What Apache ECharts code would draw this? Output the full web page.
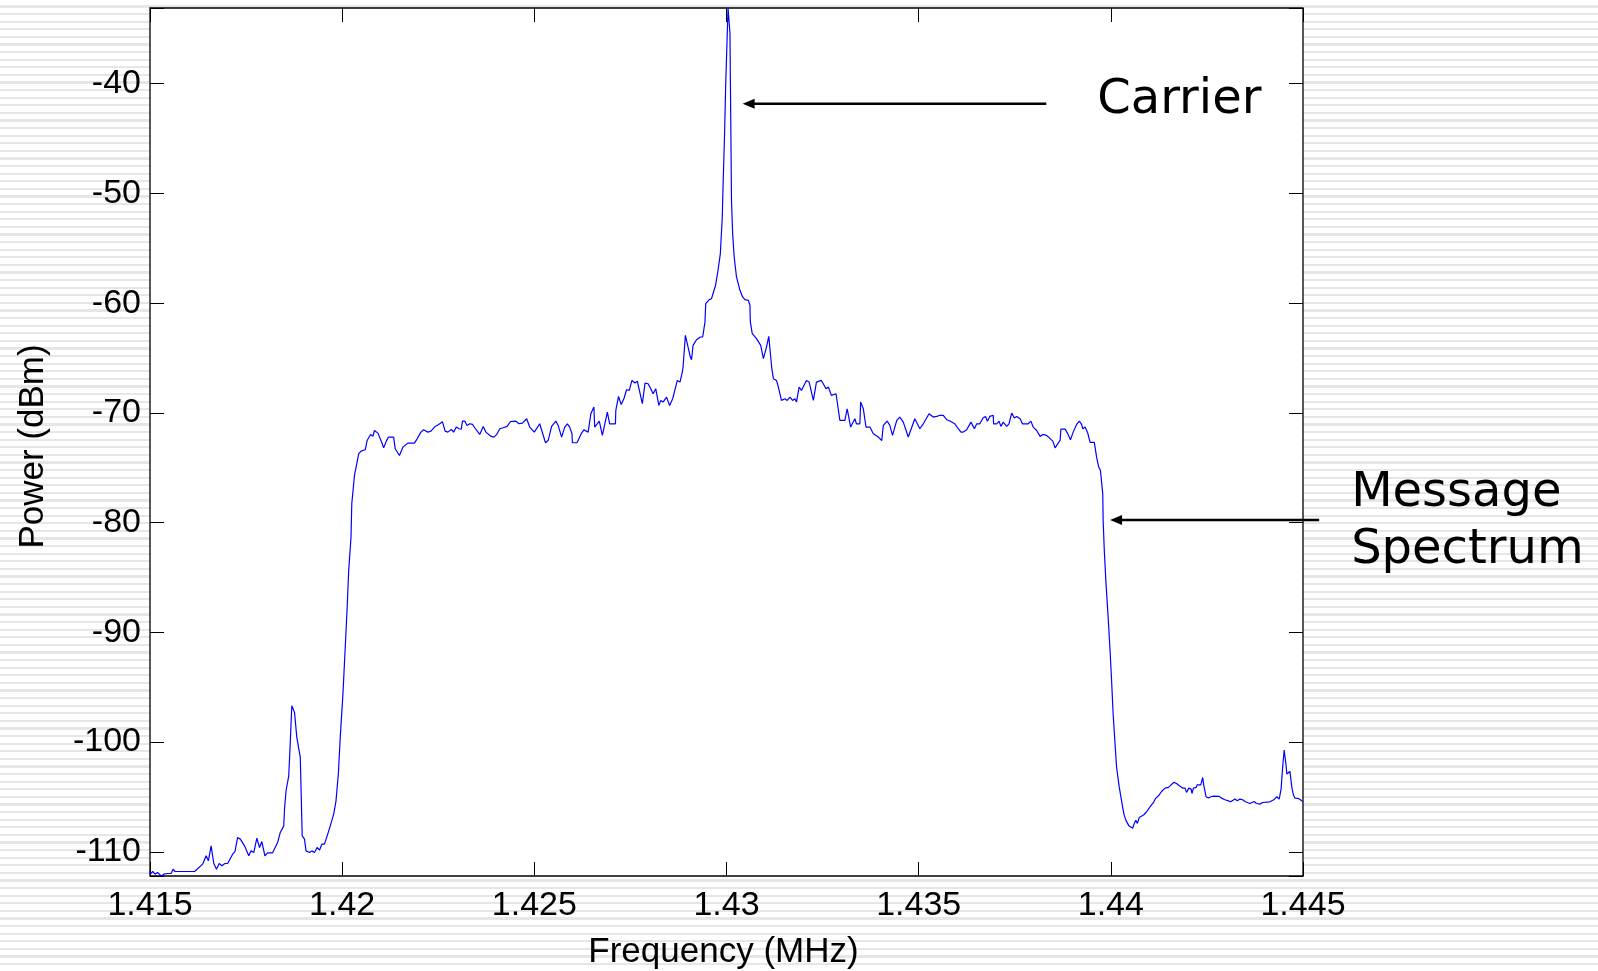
<!DOCTYPE html>
<html>
<head>
<meta charset="utf-8">
<title>Power spectrum</title>
<style>
  html, body { margin: 0; padding: 0; }
  body {
    background: repeating-linear-gradient(to bottom, #ffffff 0px, #ffffff 5.4px, #e6e6e6 5.4px, #e6e6e6 7.6px);
  }
  #chart { width: 1598px; height: 971px; }
</style>
<script src="https://cdn.jsdelivr.net/npm/echarts@6/dist/echarts.min.js"></script>
</head>
<body>
<div id="chart"></div>
<script>
var freqMHz = [
  1.41500, 1.41501, 1.41507, 1.41513, 1.41520, 1.41524, 1.41529, 1.41536, 1.41544, 1.41555,
  1.41560, 1.41565, 1.41581, 1.41616, 1.41637, 1.41646, 1.41652, 1.41659, 1.41666, 1.41673,
  1.41680, 1.41687, 1.41695, 1.41702, 1.41715, 1.41721, 1.41728, 1.41735, 1.41746, 1.41757,
  1.41763, 1.41770, 1.41778, 1.41785, 1.41791, 1.41799, 1.41806, 1.41819, 1.41832, 1.41839,
  1.41848, 1.41850, 1.41854, 1.41861, 1.41864, 1.41869, 1.41876, 1.41882, 1.41891, 1.41896,
  1.41902, 1.41906, 1.41915, 1.41921, 1.41928, 1.41935, 1.41941, 1.41947, 1.41954, 1.41961,
  1.41969, 1.41978, 1.41984, 1.41990, 1.41995, 1.42002, 1.42008, 1.42013, 1.42017, 1.42023,
  1.42025, 1.42032, 1.42043, 1.42049, 1.42060, 1.42065, 1.42074, 1.42080, 1.42084, 1.42093,
  1.42101, 1.42108, 1.42115, 1.42120, 1.42134, 1.42138, 1.42149, 1.42158, 1.42171, 1.42188,
  1.42195, 1.42205, 1.42212, 1.42223, 1.42231, 1.42242, 1.42251, 1.42254, 1.42261, 1.42268,
  1.42275, 1.42277, 1.42284, 1.42290, 1.42297, 1.42304, 1.42310, 1.42313, 1.42319, 1.42325,
  1.42332, 1.42339, 1.42345, 1.42358, 1.42367, 1.42374, 1.42386, 1.42395, 1.42402, 1.42410,
  1.42419, 1.42429, 1.42438, 1.42452, 1.42460, 1.42469, 1.42480, 1.42488, 1.42500, 1.42514,
  1.42529, 1.42536, 1.42545, 1.42556, 1.42562, 1.42571, 1.42579, 1.42586, 1.42592, 1.42598,
  1.42599, 1.42611, 1.42623, 1.42629, 1.42640, 1.42647, 1.42655, 1.42657, 1.42662, 1.42669,
  1.42677, 1.42690, 1.42696, 1.42711, 1.42712, 1.42719, 1.42726, 1.42733, 1.42740, 1.42747,
  1.42754, 1.42762, 1.42768, 1.42773, 1.42781, 1.42788, 1.42796, 1.42803, 1.42809, 1.42816,
  1.42824, 1.42829, 1.42835, 1.42844, 1.42852, 1.42860, 1.42872, 1.42879, 1.42885, 1.42887,
  1.42893, 1.42906, 1.42909, 1.42913, 1.42922, 1.42932, 1.42938, 1.42944, 1.42946, 1.42955,
  1.42961, 1.42967, 1.42971, 1.42978, 1.42984, 1.42989, 1.42991, 1.42995, 1.42998, 1.43002,
  1.43004, 1.43009, 1.43011, 1.43013, 1.43016, 1.43020, 1.43026, 1.43035, 1.43042, 1.43048,
  1.43057, 1.43061, 1.43062, 1.43067, 1.43078, 1.43089, 1.43096, 1.43104, 1.43110, 1.43115,
  1.43118, 1.43122, 1.43130, 1.43135, 1.43143, 1.43152, 1.43158, 1.43165, 1.43172, 1.43178,
  1.43182, 1.43189, 1.43195, 1.43208, 1.43215, 1.43226, 1.43234, 1.43247, 1.43252, 1.43259,
  1.43265, 1.43273, 1.43285, 1.43295, 1.43308, 1.43314, 1.43323, 1.43328, 1.43334, 1.43338,
  1.43347, 1.43349, 1.43356, 1.43363, 1.43373, 1.43382, 1.43395, 1.43404, 1.43408, 1.43418,
  1.43425, 1.43432, 1.43443, 1.43451, 1.43460, 1.43473, 1.43490, 1.43503, 1.43512, 1.43527,
  1.43538, 1.43547, 1.43554, 1.43564, 1.43573, 1.43581, 1.43594, 1.43603, 1.43610, 1.43616,
  1.43625, 1.43636, 1.43645, 1.43651, 1.43659, 1.43668, 1.43674, 1.43679, 1.43685, 1.43694,
  1.43695, 1.43703, 1.43709, 1.43714, 1.43720, 1.43729, 1.43735, 1.43742, 1.43749, 1.43755,
  1.43764, 1.43770, 1.43785, 1.43792, 1.43798, 1.43807, 1.43816, 1.43823, 1.43831, 1.43840,
  1.43849, 1.43855, 1.43863, 1.43868, 1.43870, 1.43881, 1.43887, 1.43895, 1.43902, 1.43911,
  1.43918, 1.43924, 1.43927, 1.43933, 1.43940, 1.43946, 1.43957, 1.43963, 1.43968, 1.43973,
  1.43979, 1.43980, 1.43983, 1.43987, 1.43993, 1.43998, 1.44002, 1.44006, 1.44011, 1.44015,
  1.44022, 1.44028, 1.44034, 1.44039, 1.44044, 1.44047, 1.44052, 1.44057, 1.44061, 1.44065,
  1.44069, 1.44074, 1.44078, 1.44086, 1.44095, 1.44102, 1.44111, 1.44117, 1.44124, 1.44132,
  1.44141, 1.44150, 1.44157, 1.44164, 1.44171, 1.44178, 1.44187, 1.44193, 1.44197, 1.44203,
  1.44209, 1.44211, 1.44215, 1.44222, 1.44225, 1.44230, 1.44234, 1.44239, 1.44242, 1.44248,
  1.44254, 1.44260, 1.44267, 1.44282, 1.44288, 1.44297, 1.44306, 1.44312, 1.44317, 1.44323,
  1.44329, 1.44336, 1.44343, 1.44349, 1.44355, 1.44362, 1.44366, 1.44373, 1.44379, 1.44388,
  1.44395, 1.44414, 1.44425, 1.44432, 1.44438, 1.44443, 1.44447, 1.44451, 1.44456, 1.44458,
  1.44462, 1.44466, 1.44471, 1.44475, 1.44479, 1.44488, 1.44497, 1.44500
];
var powerDbm = [
  -111.67, -112.03, -111.79, -112.03, -111.88, -111.97, -112.19, -112.03, -111.97, -111.97,
  -111.58, -111.79, -111.79, -111.79, -111.12, -110.36, -110.82, -109.45, -111.06, -111.58,
  -111.06, -111.27, -111.06, -111.06, -110.21, -109.97, -108.69, -108.84, -109.45, -110.36,
  -109.91, -110.06, -108.75, -109.60, -109.06, -110.36, -110.09, -110.09, -109.15, -108.23,
  -107.63, -106.11, -104.43, -103.07, -100.79, -96.68, -97.29, -99.57, -101.39, -108.54,
  -108.84, -109.91, -110.06, -109.91, -110.06, -109.60, -109.85, -109.30, -109.30, -108.54,
  -107.63, -106.56, -105.35, -102.91, -99.57, -95.62, -91.36, -87.71, -84.37, -81.33,
  -78.29, -75.70, -73.73, -73.48, -73.36, -72.51, -71.96, -72.14, -71.60, -71.84,
  -72.51, -73.18, -72.57, -72.21, -72.21, -73.27, -73.88, -73.12, -72.75, -72.75,
  -72.36, -71.75, -71.54, -71.75, -71.66, -71.23, -71.05, -71.17, -70.81, -71.66,
  -71.75, -71.75, -71.51, -71.75, -71.29, -71.44, -71.47, -70.75, -70.75, -71.14,
  -70.99, -71.05, -71.35, -71.96, -71.23, -71.75, -72.11, -72.20, -71.96, -71.44,
  -71.35, -71.23, -70.78, -70.75, -70.99, -70.93, -70.53, -71.29, -71.75, -70.99,
  -72.72, -72.51, -71.23, -70.75, -71.14, -72.20, -71.29, -70.99, -71.29, -71.90,
  -72.72, -72.72, -71.84, -71.54, -71.75, -70.08, -69.47, -71.29, -71.23, -70.75,
  -72.05, -69.93, -70.99, -70.99, -69.77, -68.50, -69.23, -68.71, -67.89, -67.95,
  -67.04, -67.28, -67.10, -67.19, -69.16, -67.28, -67.34, -67.80, -68.25, -67.80,
  -69.32, -68.86, -69.01, -68.56, -69.32, -68.71, -67.04, -67.19, -66.28, -65.82,
  -62.93, -64.91, -65.15, -63.84, -63.33, -63.08, -63.08, -61.72, -60.04, -59.68,
  -59.59, -58.89, -58.46, -57.00, -55.48, -52.14, -49.40, -44.54, -39.98, -35.41,
  -33.10, -35.41, -43.02, -50.62, -53.66, -55.79, -57.61, -58.83, -59.43, -59.68,
  -59.74, -60.19, -61.71, -62.78, -63.23, -63.84, -65.06, -64.00, -63.02, -64.91,
  -65.97, -66.88, -67.04, -67.64, -68.86, -68.71, -68.86, -68.56, -68.86, -68.71,
  -69.01, -67.64, -67.95, -67.04, -67.19, -68.86, -67.19, -67.04, -66.88, -67.80,
  -67.64, -68.40, -68.25, -70.68, -70.68, -69.62, -71.29, -71.44, -70.53, -70.99,
  -70.99, -69.01, -69.62, -71.29, -71.29, -71.90, -72.20, -72.51, -71.14, -70.74,
  -71.14, -72.05, -70.68, -70.38, -70.84, -72.20, -70.53, -71.44, -70.99, -70.07,
  -70.38, -70.32, -70.23, -70.23, -70.62, -70.74, -70.99, -71.44, -71.75, -71.75,
  -71.54, -70.84, -71.44, -70.99, -70.99, -70.44, -70.32, -70.75, -70.32, -70.23,
  -70.99, -70.99, -70.75, -71.23, -70.84, -71.23, -70.99, -70.02, -70.47, -70.32,
  -70.53, -70.99, -70.99, -70.75, -71.29, -71.60, -72.14, -71.96, -72.02, -72.27,
  -72.57, -73.18, -72.75, -72.51, -71.48, -71.48, -71.84, -72.45, -71.75, -71.05,
  -70.75, -71.05, -71.45, -71.29, -71.84, -72.69, -72.69, -74.03, -74.88, -75.25,
  -77.38, -79.81, -82.54, -85.28, -88.63, -91.67, -94.40, -97.44, -100.18, -102.31,
  -104.13, -105.35, -106.56, -107.11, -107.17, -107.63, -107.54, -107.84, -107.41, -107.11,
  -107.41, -106.87, -106.71, -106.62, -106.26, -105.89, -105.50, -105.10, -104.89, -104.50,
  -104.19, -104.13, -103.89, -103.67, -103.77, -103.98, -104.19, -104.19, -104.58, -104.19,
  -104.28, -104.68, -104.19, -104.13, -103.89, -103.77, -103.89, -103.22, -103.98, -104.98,
  -105.10, -104.98, -104.92, -104.95, -105.10, -105.25, -105.35, -105.44, -105.59, -105.19,
  -105.35, -105.19, -105.25, -105.41, -105.50, -105.59, -105.65, -105.41, -105.59, -105.65,
  -105.50, -105.44, -105.22, -104.98, -105.19, -104.28, -102.31, -100.72, -102.15, -102.91,
  -102.76, -102.67, -104.13, -104.80, -105.10, -105.13, -105.35, -105.41
];

// axis ranges and tick labels
var xRange = [1.415, 1.445];
var yRange = [-112.2, -33.1];
var xTickLabels = ['1.415', '1.42', '1.425', '1.43', '1.435', '1.44', '1.445'];
var yTickLabels = ['-110', '-100', '-90', '-80', '-70', '-60', '-50', '-40'];

// annotation arrows, in data coordinates
var carrierArrow = { text: ['Carrier'], tip: [1.43042, -41.82], tail: [1.43832, -41.82] };
var messageArrow = { text: ['Message', 'Spectrum'], tip: [1.43998, -79.75], tail: [1.44542, -79.75] };

var chart = echarts.init(document.getElementById('chart'));
var labelFont = '"Liberation Sans", Arial, sans-serif';

function xLabel(v) {
  var s = String(parseFloat(v.toFixed(4)));
  return xTickLabels.indexOf(s) >= 0 ? s : '';
}
function yLabel(v) {
  var s = String(Math.round(v * 1000) / 1000);
  return yTickLabels.indexOf(s) >= 0 ? s : '';
}

var tick = { show: true, inside: true, length: 14, lineStyle: { color: '#000', width: 1 } };

var option = {
  backgroundColor: 'transparent',
  animation: false,
  grid: {
    left: 150, top: 8, width: 1153, height: 868,
    outerBoundsMode: 'none', containLabel: false,
    show: true, backgroundColor: '#ffffff', borderColor: '#000', borderWidth: 1.3
  },
  xAxis: [
    {
      type: 'value', min: xRange[0], max: xRange[1], interval: 0.005, position: 'bottom',
      name: 'Frequency (MHz)', nameLocation: 'middle', nameGap: 59,
      nameTextStyle: { fontFamily: labelFont, fontSize: 35, color: '#000', padding: [0, 6, 0, 0] },
      axisLine: { show: false }, axisTick: tick, splitLine: { show: false },
      axisLabel: { formatter: xLabel, fontFamily: labelFont, fontSize: 34, color: '#000', margin: 13 }
    },
    {
      type: 'value', min: xRange[0], max: xRange[1], interval: 0.005, position: 'top',
      axisLine: { show: false }, axisTick: tick, splitLine: { show: false }, axisLabel: { show: false }
    }
  ],
  yAxis: [
    {
      type: 'value', min: yRange[0], max: yRange[1], splitNumber: 8, position: 'left',
      name: 'Power (dBm)', nameLocation: 'middle', nameGap: 99,
      nameTextStyle: { fontFamily: labelFont, fontSize: 35, color: '#000', padding: [0, 9, 0, 0] },
      axisLine: { show: false }, axisTick: tick, splitLine: { show: false },
      axisLabel: { formatter: yLabel, fontFamily: labelFont, fontSize: 34, color: '#000', margin: 9 }
    },
    {
      type: 'value', min: yRange[0], max: yRange[1], splitNumber: 8, position: 'right',
      axisLine: { show: false }, axisTick: tick, splitLine: { show: false }, axisLabel: { show: false }
    }
  ],
  series: [{
    type: 'line',
    xAxisIndex: 0, yAxisIndex: 0,
    showSymbol: false,
    clip: true,
    lineStyle: { color: '#0000ff', width: 1.2 },
    data: freqMHz.map(function (f, i) { return [f, powerDbm[i]]; })
  }]
};
chart.setOption(option);

// arrows and their captions
function arrowGraphics(a, textDx, textDy, lineGap) {
  var p = chart.convertToPixel({ xAxisIndex: 0, yAxisIndex: 0 }, a.tip);
  var q = chart.convertToPixel({ xAxisIndex: 0, yAxisIndex: 0 }, a.tail);
  var els = [
    { type: 'line', z: 100, shape: { x1: p[0] + 9, y1: p[1], x2: q[0], y2: q[1] },
      style: { stroke: '#000', lineWidth: 2.5 } },
    { type: 'polygon', z: 100, shape: { points: [[p[0], p[1]], [p[0] + 12, p[1] - 5], [p[0] + 12, p[1] + 5]] },
      style: { fill: '#000' } }
  ];
  a.text.forEach(function (t, i) {
    els.push({
      type: 'text', z: 100, x: q[0] + textDx, y: p[1] + textDy + i * lineGap,
      style: { text: t, fill: '#000', font: '48px "DejaVu Sans", Verdana, sans-serif',
               textAlign: 'left', textVerticalAlign: 'middle', align: 'left', verticalAlign: 'middle' }
    });
  });
  return els;
}

chart.setOption({
  graphic: arrowGraphics(carrierArrow, 51, -3, 0).concat(arrowGraphics(messageArrow, 32, -26, 57))
});
</script>
</body>
</html>
